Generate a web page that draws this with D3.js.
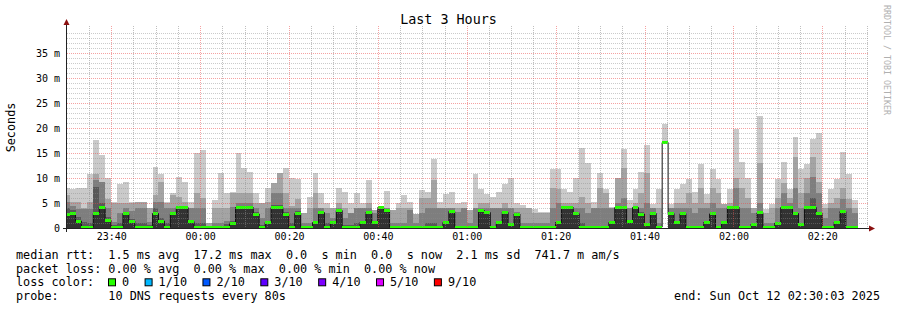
<!DOCTYPE html>
<html>
<head>
<meta charset="utf-8">
<script src="https://cdn.jsdelivr.net/npm/d3@7"></script>
<style>
  html, body { margin: 0; padding: 0; background: #fff; }
  svg { display: block; }
  text { font-family: "DejaVu Sans Mono", monospace; fill: #000; white-space: pre; }
</style>
</head>
<body>
<svg id="chart" width="897" height="310"></svg>
<script>
// 10 DNS pings per 80 s step, values in ms, sorted pings per step
const maxRtt = [
  8, 7.9, 8, 8, 10.9, 17.7, 14.7, 10, 5.3, 8.9,
  9.3, 5.3, 5.3, 5.3, 4, 12.3, 10.9, 5.3, 7, 10.3,
  9.3, 5.3, 15, 15.7, 1, 5.7, 11, 7.1, 7.3, 15,
  12, 11.3, 7, 5, 8, 9, 11, 12, 10, 9.8,
  3, 6.3, 11, 7, 5, 4, 8, 7.3, 5, 7,
  5, 9.7, 3.6, 4.3, 7.4, 3.6, 5, 6.6, 5.3, 2.9,
  7.6, 7.3, 13.9, 5.3, 6.8, 7.3, 5, 5.3, 3.6, 10.9,
  7.9, 6.9, 6.3, 7.3, 8.9, 10.1, 5, 4.6, 4, 3.9,
  3.3, 3.3, 11.9, 11.9, 7.9, 7.3, 10, 16, 13, 5.3,
  11, 7.9, 4.3, 10, 15.9, 5.6, 7.9, 11.3, 16.6, 4.9,
  7.9, 20.9, 4.9, 7.9, 8.9, 9.9, 7.3, 12.9, 6.9, 11.9,
  9.9, 4.9, 7.9, 19.9, 13.3, 10, 4, 22.4, 3.9, 4.9,
  9.9, 13.3, 7.9, 18.3, 11.9, 12.9, 17.9, 19.1, 4.9, 7.9,
  9.9, 15.3, 10.9, 5.7
];
const ping9 = [
  6.6, 5.3, 5.3, 4, 5.3, 10.9, 9.3, 5.9, 5, 5,
  5, 5, 5.3, 5.3, 4, 6.6, 9.3, 5, 6.6, 6.3,
  5.3, 4, 7, 6, 1, 4, 4, 4, 7, 7.1,
  7, 7, 5, 5, 5.3, 9, 11, 7, 4.5, 5.9,
  3, 4, 7, 4, 4, 4, 5, 4, 3, 4,
  4, 5, 3.6, 4.3, 4, 3.6, 4, 4, 4, 2.9,
  6, 6, 9.6, 4, 4, 4, 4, 4, 3.6, 4,
  5, 5, 4, 4, 5, 4, 4, 4, 4, 3,
  3, 3, 8, 7.9, 5, 5, 5, 6.3, 5, 4,
  8, 7, 4, 10, 12, 4, 5, 7, 11, 4,
  4, 17.5, 4, 5, 5, 7, 5, 8, 5, 8,
  7, 4.9, 5, 10, 8, 6, 4, 13, 3, 4,
  6, 9, 6, 14.3, 7, 10, 14.3, 9.3, 4, 5,
  6, 8, 5.9, 4
];
const ping8 = [
  5.3, 4.5, 3.9, 3.9, 3.9, 9.6, 9.3, 4, 1.3, 3,
  4, 3.5, 4, 4, 1.3, 5.3, 5.3, 4, 4, 4.5,
  4.2, 4, 4, 4, 0.5, 1, 1, 1.5, 4.2, 5,
  5, 5, 4, 2, 4, 7, 7, 4, 4, 4,
  1, 1, 4, 4, 3, 2, 4, 2, 3, 4,
  4, 4, 3, 4.3, 4, 1, 1, 1, 3.7, 1,
  3, 4, 4, 4, 4, 4, 3.3, 4, 1, 4,
  4, 4, 4, 4, 4, 4, 3.3, 1, 1, 1,
  1, 1, 4, 5, 4.5, 4.5, 4, 4, 3, 4,
  4, 4, 4, 5, 6, 4, 4.5, 4, 5, 4,
  1, 17.3, 4, 4, 4, 4, 3, 4, 4, 5,
  4, 4, 4.5, 8, 4, 4, 3, 5, 1, 1,
  4, 7, 5, 8, 4, 7, 10.3, 7, 2, 4,
  4, 5.9, 4, 3
];
const ping7 = [
  4, 3.6, 2.2, 1.2, 1, 8.3, 5, 2.2, 0.6, 1,
  3.3, 1.8, 1, 1, 0.6, 4, 2, 1, 3.3, 4.4,
  4.2, 1.7, 1, 1, 0.3, 0.5, 0.5, 0.8, 1.5, 4.4,
  4.4, 4.4, 3.3, 0.6, 1.5, 4.6, 4.6, 3.3, 1, 3.4,
  0.5, 0.5, 1.4, 3.5, 1, 1.4, 3.8, 0.6, 0.6, 1,
  1.4, 3.4, 1.4, 4.3, 3.8, 0.5, 0.5, 0.5, 0.5, 0.5,
  0.5, 1, 1, 0.5, 1.4, 3.6, 0.5, 0.5, 0.5, 0.5,
  3.8, 3.4, 0.5, 1.4, 3.4, 1.1, 3.1, 0.5, 0.5, 0.5,
  0.5, 0.5, 0.5, 1.4, 4.4, 4.4, 3.3, 1, 0.5, 0.5,
  0.5, 0.5, 1.4, 4.4, 4.4, 1.6, 4.4, 3.3, 1.1, 3.3,
  0.5, 17.2, 3.3, 1.4, 3.3, 0.5, 0.5, 0.5, 1.4, 3.3,
  0.5, 1.4, 4.4, 4.4, 0.5, 0.5, 1.1, 3.5, 0.5, 0.5,
  1.3, 4.4, 4.4, 3.3, 1.1, 4.4, 6, 3.3, 0.5, 0.5,
  1.4, 3.6, 0.5, 0.5
];
const ping6 = [
  3.1, 3.1, 1.6, 0.4, 0.4, 3.2, 4.4, 1.9, 0.3, 0.4,
  3.1, 1.6, 0.4, 0.4, 0.3, 3.2, 1.7, 0.4, 3.1, 4.3,
  4.2, 1.5, 0.4, 0.4, 0.2, 0.3, 0.3, 0.4, 1.2, 4.3,
  4.3, 4.3, 3.1, 0.3, 1.3, 4.3, 4.3, 3.1, 0.4, 3.1,
  0.3, 0.3, 1.3, 3.3, 0.4, 1.3, 3.7, 0.3, 0.3, 0.4,
  1.3, 3.3, 1.3, 4.3, 3.7, 0.3, 0.3, 0.3, 0.3, 0.3,
  0.3, 0.4, 0.4, 0.3, 1.3, 3.5, 0.3, 0.3, 0.3, 0.3,
  3.7, 3.3, 0.3, 1.3, 3.3, 1, 3, 0.3, 0.3, 0.3,
  0.3, 0.3, 0.3, 1.3, 4.3, 4.3, 3.2, 0.4, 0.3, 0.3,
  0.3, 0.3, 1.3, 4.3, 4.3, 1.5, 4.3, 3.1, 1, 3.1,
  0.3, 17.2, 3.1, 1.3, 3.1, 0.3, 0.3, 0.3, 1.3, 3.1,
  0.3, 1.3, 4.3, 4.3, 0.3, 0.3, 1, 3.3, 0.3, 0.3,
  1.2, 4.3, 4.3, 3.1, 1, 4.3, 4.3, 3.1, 0.3, 0.3,
  1.3, 3.4, 0.3, 0.3
];
const medianRtt = [
  2.8, 2.9, 1.4, 0.2, 0.2, 2.9, 4.1, 1.6, 0.2, 0.2,
  2.9, 1.4, 0.2, 0.2, 0.2, 2.9, 1.4, 0.2, 2.9, 4.1,
  4.1, 1.3, 0.2, 0.2, 0.2, 0.2, 0.2, 0.2, 1.0, 4.1,
  4.1, 4.1, 2.8, 0.2, 1.1, 4.1, 4.1, 2.8, 0.2, 2.9,
  0.2, 0.2, 1.1, 3.1, 0.2, 1.1, 3.5, 0.2, 0.2, 0.2,
  1.1, 3.1, 1.1, 4.1, 3.6, 0.2, 0.2, 0.2, 0.2, 0.2,
  0.2, 0.2, 0.2, 0.2, 1.1, 3.3, 0.2, 0.2, 0.2, 0.2,
  3.5, 3.1, 0.2, 1.1, 3.1, 0.8, 2.8, 0.2, 0.2, 0.2,
  0.2, 0.2, 0.2, 1.1, 4.1, 4.1, 3.0, 0.2, 0.2, 0.2,
  0.2, 0.2, 1.1, 4.1, 4.1, 1.3, 4.1, 2.8, 0.8, 2.9,
  0.2, 17.1, 2.9, 1.1, 2.9, 0.2, 0.2, 0.2, 1.1, 2.9,
  0.2, 1.1, 4.1, 4.1, 0.2, 0.2, 0.8, 3.1, 0.2, 0.2,
  1.0, 4.1, 4.1, 2.9, 0.8, 4.1, 4.1, 2.9, 0.2, 0.2,
  1.1, 3.3, 0.2, 0.2
];
const minRtt = [
  0, 0, 0, 0, 0, 0, 0, 0, 0, 0,
  0, 0, 0, 0, 0, 0, 0, 0, 0, 0,
  0, 0, 0, 0, 0, 0, 0, 0, 0, 0,
  0, 0, 0, 0, 0, 0, 0, 0, 0, 0,
  0, 0, 0, 0, 0, 0, 0, 0, 0, 0,
  0, 0, 0, 0, 0, 0, 0, 0, 0, 0,
  0, 0, 0, 0, 0, 0, 0, 0, 0, 0,
  0, 0, 0, 0, 0, 0, 0, 0, 0, 0,
  0, 0, 0, 0, 0, 0, 0, 0, 0, 0,
  0, 0, 0, 0, 0, 0, 0, 0, 0, 0,
  0, 17, 0, 0, 0, 0, 0, 0, 0, 0,
  0, 0, 0, 0, 0, 0, 0, 0, 0, 0,
  0, 0, 0, 0, 0, 0, 0, 0, 0, 0,
  0, 0, 0, 0
];

const yTicks = [0, 5, 10, 15, 20, 25, 30, 35];
const lossLabels = ["0", "1/10", "2/10", "3/10", "4/10", "5/10", "9/10"];
const lossColors = ["#26ff00", "#00b8ff", "#0059ff", "#5e00ff", "#7e00ff", "#dd00ff", "#ff0000"];
const smokeShades = ["#cacaca", "#a4a4a4", "#7e7e7e", "#585858", "#323232"];
const legendLines = [
  "median rtt:  1.5 ms avg  17.2 ms max  0.0  s min  0.0  s now  2.1 ms sd  741.7 m am/s",
  "packet loss: 0.00 % avg  0.00 % max  0.00 % min  0.00 % now",
  "loss color:",
  "probe:       10 DNS requests every 80s"
];

const svg = d3.select("#chart");
const W = 897, H = 310;
const plotL = 67, plotR = 867, plotT = 28, plotB = 228;

const tStart = new Date(2025, 9, 11, 23, 30, 3);
const tEnd = new Date(2025, 9, 12, 2, 30, 3);
const firstStep = new Date(2025, 9, 11, 23, 29, 18);
const stepMs = 80 * 1000;

const x = d3.scaleTime().domain([tStart, tEnd]).range([plotL, plotR]);
const y = d3.scaleLinear().domain([0, 40]).range([plotB, plotT]);

const steps = medianRtt.map((m, i) => ({
  i: i,
  t0: new Date(firstStep.getTime() + i * stepMs),
  t1: new Date(firstStep.getTime() + (i + 1) * stepMs)
}));
// points for step curves, extra one to close the last step
const pts = steps.map(s => ({ t: s.t0, i: s.i }));
pts.push({ t: steps[steps.length - 1].t1, i: steps.length - 1 });

svg.append("rect").attr("width", W).attr("height", H).attr("fill", "#fff");

svg.append("clipPath").attr("id", "plotclip")
  .append("rect").attr("x", plotL).attr("y", 26).attr("width", plotR - plotL).attr("height", plotB - 26);

const plot = svg.append("g").attr("clip-path", "url(#plotclip)");

// smoke layers, lightest first
const layers = [maxRtt, ping9, ping8, ping7, ping6];
layers.forEach((tops, li) => {
  const area = d3.area()
    .curve(d3.curveStepAfter)
    .x(p => x(p.t))
    .y0(p => y(minRtt[p.i]))
    .y1(p => y(tops[p.i]));
  plot.append("path")
    .datum(pts)
    .attr("d", area)
    .attr("fill", smokeShades[li])
    .attr("shape-rendering", "crispEdges");
});

// grid
const grid = svg.append("g");
const minorY = d3.range(1, 40).filter(v => v % 5 !== 0);
const majorY = d3.range(5, 40, 5);
grid.selectAll(".gy").data(minorY).join("line")
  .attr("x1", plotL).attr("x2", plotR + 1)
  .attr("y1", d => Math.round(y(d)) + 0.5).attr("y2", d => Math.round(y(d)) + 0.5)
  .attr("stroke", "rgba(140,140,140,0.45)").attr("stroke-dasharray", "1,1");
const minorX = d3.timeMinute.every(5).range(tStart, tEnd).filter(t => t.getMinutes() % 20 !== 0);
const majorX = d3.timeMinute.every(20).range(tStart, tEnd);
grid.selectAll(".gx").data(minorX).join("line")
  .attr("y1", 26).attr("y2", plotB)
  .attr("x1", d => Math.round(x(d)) + 0.5).attr("x2", d => Math.round(x(d)) + 0.5)
  .attr("stroke", "rgba(140,140,140,0.55)").attr("stroke-dasharray", "1,1");
grid.selectAll(".my").data(majorY).join("line")
  .attr("x1", plotL).attr("x2", plotR + 1)
  .attr("y1", d => Math.round(y(d)) + 0.5).attr("y2", d => Math.round(y(d)) + 0.5)
  .attr("stroke", "rgba(235,70,70,0.5)").attr("stroke-dasharray", "1,1");
grid.selectAll(".mx").data(majorX).join("line")
  .attr("y1", 26).attr("y2", plotB)
  .attr("x1", d => Math.round(x(d)) + 0.5).attr("x2", d => Math.round(x(d)) + 0.5)
  .attr("stroke", "rgba(235,70,70,0.5)").attr("stroke-dasharray", "1,1");

// median: thin black step line, then loss coloured bars
const medLine = d3.line()
  .curve(d3.curveStepAfter)
  .x(p => x(p.t))
  .y(p => y(medianRtt[p.i]));
plot.append("path")
  .datum(pts)
  .attr("d", medLine)
  .attr("fill", "none")
  .attr("stroke", "#111")
  .attr("stroke-width", 1);

plot.selectAll(".med").data(steps).join("rect")
  .attr("x", s => x(s.t0))
  .attr("width", s => x(s.t1) - x(s.t0))
  .attr("y", s => y(medianRtt[s.i]) - 1.5)
  .attr("height", 3)
  .attr("fill", lossColors[0])
  .attr("shape-rendering", "crispEdges");

// axes
const yAxis = d3.axisLeft(y).tickValues(yTicks).tickSize(0).tickPadding(7)
  .tickFormat(d => d === 0 ? "0" : d + " m");
svg.append("g").attr("transform", `translate(${plotL},0)`).call(yAxis)
  .call(g => g.select(".domain").remove())
  .call(g => g.selectAll("text").attr("font-family", "DejaVu Sans Mono").attr("font-size", 10).attr("dy", "0.37em"));

const xAxis = d3.axisBottom(x).ticks(d3.timeMinute.every(20)).tickSize(0).tickPadding(5)
  .tickFormat(d3.timeFormat("%H:%M"));
svg.append("g").attr("transform", `translate(0,${plotB})`).call(xAxis)
  .call(g => g.select(".domain").remove())
  .call(g => g.selectAll("text").attr("font-family", "DejaVu Sans Mono").attr("font-size", 10));

svg.append("line").attr("x1", 63).attr("x2", 870).attr("y1", plotB + 0.5).attr("y2", plotB + 0.5)
  .attr("stroke", "#222");
svg.append("line").attr("x1", plotL - 0.5).attr("x2", plotL - 0.5).attr("y1", 232).attr("y2", 24)
  .attr("stroke", "#222");
svg.append("path").attr("d", "M869,225.5L869,231.5L875,228.5Z").attr("fill", "#8b1010");
svg.append("path").attr("d", "M63.5,25L69.5,25L66.5,19Z").attr("fill", "#8b1010");

// titles
svg.append("text").attr("x", 448.5).attr("y", 24).attr("text-anchor", "middle")
  .attr("font-size", 13.4).text("Last 3 Hours");
svg.append("text").attr("transform", "translate(15,127.5) rotate(-90)").attr("text-anchor", "middle")
  .attr("font-size", 11.8).text("Seconds");
svg.append("text").attr("transform", "translate(884,5) rotate(90)")
  .attr("font-size", 8.3).style("fill", "#b0b0b0").text("RRDTOOL / TOBI OETIKER");

// legend
const legY = [259, 272.7, 286.3, 300];
legendLines.forEach((s, i) => {
  svg.append("text").attr("x", 16).attr("y", legY[i]).attr("font-size", 11.8).text(s);
});
const charW = 7.09;
let lx = 108.5;
lossLabels.forEach((lab, i) => {
  svg.append("rect").attr("x", lx).attr("y", legY[2] - 7.5).attr("width", 7).attr("height", 7)
    .attr("fill", lossColors[i]).attr("stroke", "#000").attr("stroke-width", 1);
  svg.append("text").attr("x", lx + 13.5).attr("y", legY[2]).attr("font-size", 11.8).text(lab);
  lx += 13.5 + lab.length * charW + 16;
});
svg.append("text").attr("x", 880).attr("y", legY[3]).attr("text-anchor", "end")
  .attr("font-size", 11.8).text("end: Sun Oct 12 02:30:03 2025");
</script>
</body>
</html>
